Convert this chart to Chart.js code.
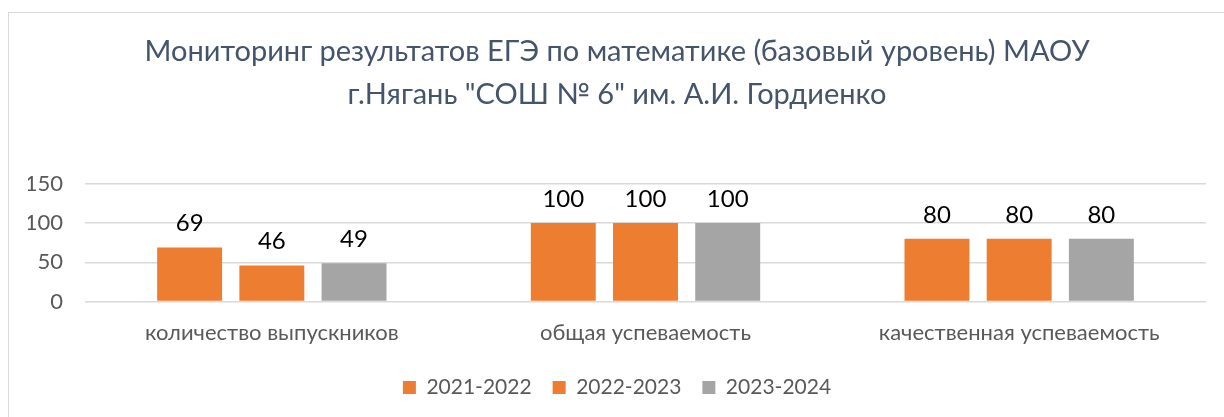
<!DOCTYPE html>
<html>
<head>
<meta charset="utf-8">
<script src="https://cdn.jsdelivr.net/npm/chart.js@4"></script>
<style>
  html, body { margin: 0; padding: 0; background: #fff; }
  #wrap { position: relative; width: 1224px; height: 417px; overflow: hidden; }
  #frame { position: absolute; left: 8px; top: 12px; width: 1240px; height: 420px;
           border-left: 1px solid #d9d9d9; border-top: 1px solid #d9d9d9; }
  #box { position: absolute; left: 0; top: 0; width: 1224px; height: 417px; }
</style>
</head>
<body>
<div id="wrap">
  <div id="frame"></div>
  <div id="box"><canvas id="egeChart"></canvas></div>
</div>
<script>
const categories = ['количество выпускников', 'общая успеваемость', 'качественная успеваемость'];
const seriesNames = ['2021-2022', '2022-2023', '2023-2024'];
const values2122 = [69, 100, 80];
const values2223 = [46, 100, 80];
const values2324 = [49, 100, 80];
const yTicks = [0, 50, 100, 150];

const fontFamily = 'Lato, "Open Sans", sans-serif';

// draws the number above every bar
const barLabels = {
    id: 'barLabels',
    afterDatasetsDraw(chart) {
        const ctx = chart.ctx;
        ctx.save();
        ctx.font = '24px ' + fontFamily;
        ctx.fillStyle = '#000';
        ctx.textAlign = 'center';
        ctx.textBaseline = 'middle';
        chart.data.datasets.forEach((ds, i) => {
            chart.getDatasetMeta(i).data.forEach((bar, j) => {
                ctx.fillText(ds.data[j], bar.x, bar.y - 24);
            });
        });
        ctx.restore();
    }
};

const ctx = document.getElementById('egeChart').getContext('2d');
new Chart(ctx, {
    type: 'bar',
    data: {
        labels: categories,
        datasets: [
            { label: seriesNames[0], data: values2122, backgroundColor: '#ED7D31' },
            { label: seriesNames[1], data: values2223, backgroundColor: '#ED7D31' },
            { label: seriesNames[2], data: values2324, backgroundColor: '#A5A5A5' }
        ]
    },
    options: {
        responsive: true,
        maintainAspectRatio: false,
        animation: false,
        layout: { padding: { top: 30, left: 28, right: 18, bottom: 9 } },
        datasets: { bar: { categoryPercentage: 0.66, barPercentage: 0.79 } },
        plugins: {
            title: {
                display: true,
                text: ['Мониторинг результатов ЕГЭ по математике (базовый уровень) МАОУ',
                       'г.Нягань "СОШ № 6" им. А.И. Гордиенко'],
                color: '#44546A',
                font: { family: fontFamily, size: 29, weight: 'normal', lineHeight: 1.48 },
                padding: { top: 0, bottom: 68 }
            },
            legend: {
                position: 'bottom',
                labels: {
                    color: '#595959',
                    font: { family: fontFamily, size: 21 },
                    boxWidth: 13,
                    boxHeight: 13,
                    padding: 21
                }
            },
            tooltip: { enabled: false }
        },
        scales: {
            x: {
                grid: { display: false },
                border: { display: false },
                ticks: { color: '#595959', font: { family: fontFamily, size: 22 }, padding: 10 }
            },
            y: {
                min: yTicks[0],
                max: yTicks[yTicks.length - 1],
                afterBuildTicks: axis => { axis.ticks = yTicks.map(v => ({ value: v })); },
                afterFit: axis => { axis.width = 57; },
                grid: { color: '#d9d9d9', lineWidth: 1.5, drawTicks: false },
                border: { display: false },
                ticks: { color: '#595959', font: { family: fontFamily, size: 22 }, padding: 22 }
            }
        }
    },
    plugins: [barLabels]
});
</script>
</body>
</html>
